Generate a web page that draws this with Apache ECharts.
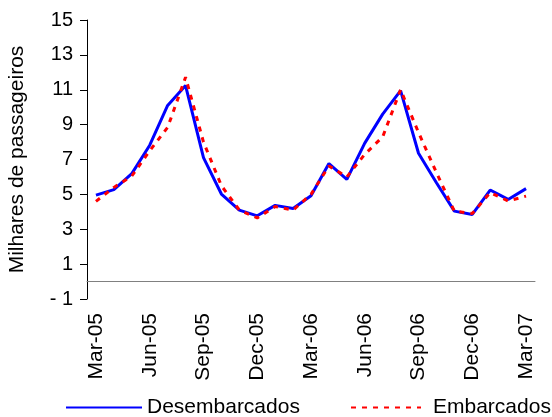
<!DOCTYPE html>
<html>
<head>
<meta charset="utf-8">
<script src="https://cdn.jsdelivr.net/npm/echarts@6/dist/echarts.min.js"></script>
<style>
  html, body { margin: 0; padding: 0; background: #fff; }
  #chart { width: 552px; height: 417px; }
</style>
</head>
<body>
<div id="chart"></div>
<script>
const months = ['Mar-05','Apr-05','May-05','Jun-05','Jul-05','Aug-05','Sep-05','Oct-05','Nov-05','Dec-05','Jan-06','Feb-06',
                'Mar-06','Apr-06','May-06','Jun-06','Jul-06','Aug-06','Sep-06','Oct-06','Nov-06','Dec-06','Jan-07','Feb-07','Mar-07'];
const desembarcados = [4.96, 5.27, 6.19, 7.82, 10.1, 11.24, 7.11, 5.02, 4.1, 3.77, 4.37, 4.19,
                       4.92, 6.77, 5.86, 7.94, 9.6, 10.95, 7.36, 5.67, 4.04, 3.85, 5.25, 4.71, 5.33];
const embarcados = [4.6, 5.4, 6.05, 7.5, 8.84, 11.72, 8.0, 5.5, 4.1, 3.65, 4.3, 4.1,
                    5.0, 6.63, 6.0, 7.3, 8.3, 11.0, 8.55, 6.25, 4.04, 3.9, 5.1, 4.62, 4.9];
const yTicks = [-1, 1, 3, 5, 7, 9, 11, 13, 15];
const seriesNames = ['Desembarcados', 'Embarcados'];

const FONT = 'Liberation Sans, Arial, sans-serif';
const chart = echarts.init(document.getElementById('chart'), null, { renderer: 'canvas' });
chart.setOption({
  animation: false,
  backgroundColor: '#ffffff',
  grid: { left: 87, right: 17, top: 20, bottom: 118, outerBoundsMode: 'none', containLabel: false },
  legend: [
    {
      data: [seriesNames[0]], left: 65, top: 397, padding: 0, itemWidth: 76, itemHeight: 14,
      itemStyle: { opacity: 0 },
      textStyle: { fontFamily: FONT, fontSize: 21, color: '#000' }
    },
    {
      data: [seriesNames[1]], left: 350, top: 397, padding: 0, itemWidth: 70, itemHeight: 14,
      itemStyle: { opacity: 0 },
      textStyle: { fontFamily: FONT, fontSize: 21, color: '#000', padding: [0, 0, 0, 7] }
    }
  ],
  xAxis: {
    type: 'category',
    data: months,
    boundaryGap: true,
    axisLine: { onZero: true, lineStyle: { color: '#808080', width: 1 } },
    axisTick: { interval: 2, length: 6, lineStyle: { color: '#808080', width: 1 } },
    axisLabel: { interval: 2, rotate: 90, margin: 14, color: '#000', fontFamily: FONT, fontSize: 21 },
    splitLine: { show: false }
  },
  yAxis: {
    type: 'value',
    min: yTicks[0],
    max: yTicks[yTicks.length - 1],
    name: 'Milhares de passageiros',
    nameLocation: 'middle',
    nameGap: 59,
    nameTextStyle: { fontFamily: FONT, fontSize: 21, color: '#000' },
    axisLine: { show: true, lineStyle: { color: '#000', width: 1 } },
    axisTick: { show: true, length: 7, customValues: yTicks, lineStyle: { color: '#000' } },
    axisLabel: {
      customValues: yTicks, margin: 14, color: '#000', fontFamily: FONT, fontSize: 20,
      formatter: v => (v < 0 ? '- ' + Math.abs(v) : String(v))
    },
    splitLine: { show: false }
  },
  series: [
    {
      name: seriesNames[0], type: 'line', data: desembarcados, symbol: 'none', smooth: false,
      lineStyle: { color: '#0000FF', width: 3 }, itemStyle: { color: '#0000FF' }
    },
    {
      name: seriesNames[1], type: 'line', data: embarcados, symbol: 'none', smooth: false,
      lineStyle: { color: '#FF0000', width: 3, type: [5, 6] }, itemStyle: { color: '#FF0000' }
    }
  ]
});
</script>
</body>
</html>
